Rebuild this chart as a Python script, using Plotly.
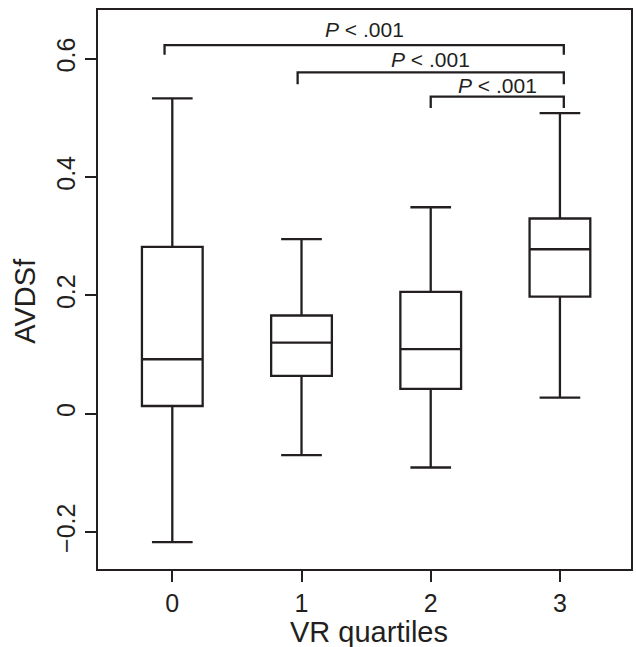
import plotly.graph_objects as go

# ---- data ----
quartiles = [0, 1, 2, 3]
lower_whisker = [-0.217, -0.070, -0.091, 0.027]
q1_vals = [0.013, 0.064, 0.042, 0.198]
median_vals = [0.092, 0.120, 0.109, 0.278]
q3_vals = [0.282, 0.166, 0.206, 0.330]
upper_whisker = [0.533, 0.295, 0.349, 0.508]

y_tickvals = [-0.2, 0, 0.2, 0.4, 0.6]
y_ticktext = ["\u22120.2", "0", "0.2", "0.4", "0.6"]
x_ticktext = ["0", "1", "2", "3"]

bracket_x0 = [-0.06, 0.97, 2.0]
bracket_x1 = [3.03, 3.03, 3.03]
bracket_y = [0.623, 0.577, 0.536]
bracket_drop = [0.016, 0.020, 0.019]
bracket_label_y = [0.649, 0.598, 0.555]
bracket_labels = ["<i>P</i> < .001", "<i>P</i> < .001", "<i>P</i> < .001"]

x_title = "VR quartiles"
y_title = "AVDSf"

INK = "#231f20"
FONT = "Liberation Sans, Arial, Helvetica, sans-serif"

fig = go.Figure()
fig.add_trace(go.Box(
    x=quartiles,
    q1=q1_vals, median=median_vals, q3=q3_vals,
    lowerfence=lower_whisker, upperfence=upper_whisker,
    boxpoints=False,
    width=0.47,
    whiskerwidth=0.67,
    line=dict(color=INK, width=2.3),
    fillcolor="rgba(255,255,255,0)",
    showlegend=False,
    hoverinfo="skip",
))

for x0, x1, y, d in zip(bracket_x0, bracket_x1, bracket_y, bracket_drop):
    fig.add_trace(go.Scatter(
        x=[x0, x0, x1, x1], y=[y - d, y, y, y - d],
        mode="lines", line=dict(color=INK, width=2.3),
        showlegend=False, hoverinfo="skip",
    ))

for x0, x1, ly, txt in zip(bracket_x0, bracket_x1, bracket_label_y, bracket_labels):
    fig.add_annotation(
        x=(x0 + x1) / 2, y=ly, text=txt, showarrow=False,
        xanchor="center", yanchor="middle",
        font=dict(size=21, color=INK, family=FONT),
    )

# axis titles
fig.add_annotation(
    x=0.508, y=-0.112, xref="paper", yref="paper", text=x_title,
    showarrow=False, xanchor="center", yanchor="middle",
    font=dict(size=29, color=INK, family=FONT),
)
fig.add_annotation(
    x=-0.137, y=0.48, xref="paper", yref="paper", text=y_title,
    showarrow=False, xanchor="center", yanchor="middle", textangle=-90,
    font=dict(size=29, color=INK, family=FONT),
)

fig.update_layout(
    width=636, height=647,
    margin=dict(l=98, r=5, t=10, b=78),
    paper_bgcolor="white", plot_bgcolor="white",
    font=dict(family=FONT, color=INK),
    xaxis=dict(
        range=[-0.575, 3.55], automargin=False,
        tickmode="array", tickvals=quartiles, ticktext=x_ticktext,
        ticks="outside", ticklen=11, tickwidth=2, tickcolor=INK,
        tickfont=dict(size=25, color=INK),
        showline=True, linewidth=2.3, linecolor=INK, mirror=True,
        showgrid=False, zeroline=False,
    ),
    yaxis=dict(
        range=[-0.2626, 0.6825], automargin=False,
        tickmode="array", tickvals=y_tickvals, ticktext=y_ticktext,
        tickangle=-90,
        ticks="outside", ticklen=11, tickwidth=2, tickcolor=INK,
        tickfont=dict(size=25, color=INK),
        showline=True, linewidth=2.3, linecolor=INK, mirror=True,
        showgrid=False, zeroline=False,
    ),
)

fig.write_html(
    "out.html",
    config={"displayModeBar": False},
    post_script="document.body.style.margin='0';document.body.style.padding='0';document.body.style.overflow='hidden';",
)
